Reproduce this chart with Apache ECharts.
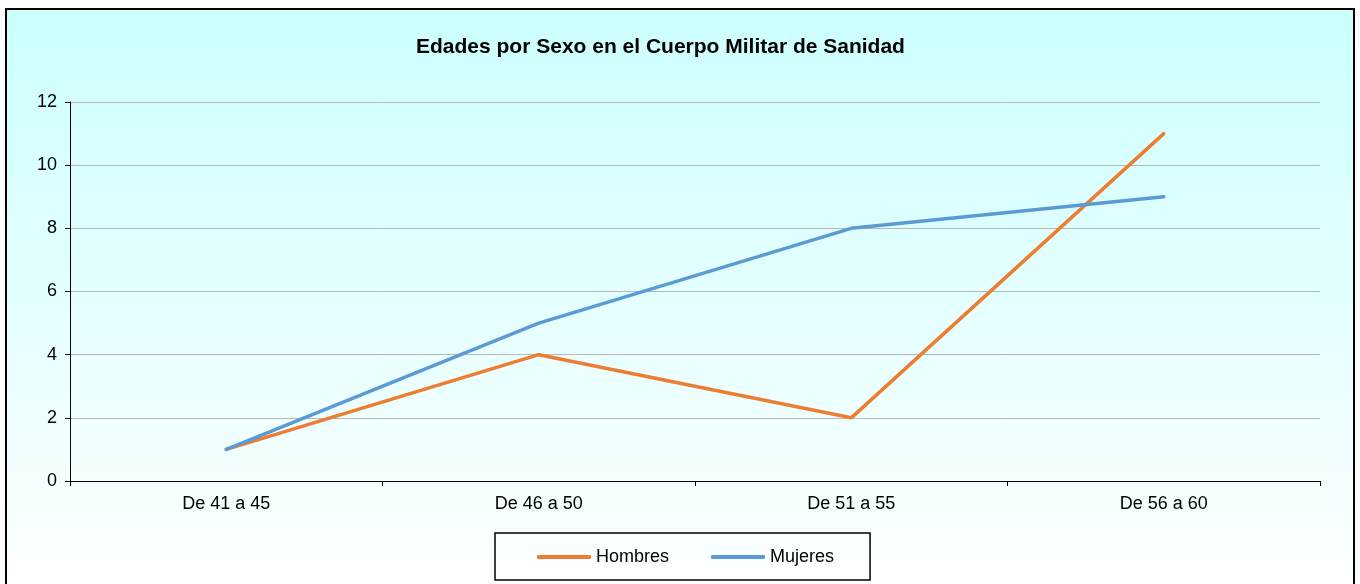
<!DOCTYPE html>
<html>
<head>
<meta charset="utf-8">
<style>
  html, body { margin: 0; padding: 0; background: #fff; }
  #chart { width: 1360px; height: 584px; }
</style>
<script src="https://cdn.jsdelivr.net/npm/echarts@6/dist/echarts.min.js"></script>
</head>
<body>
<div id="chart"></div>
<script>
var categories = ['De 41 a 45', 'De 46 a 50', 'De 51 a 55', 'De 56 a 60'];
var hombres = [1, 4, 2, 11];
var mujeres = [1, 5, 8, 9];
var font = '"Liberation Sans", Arial, sans-serif';

var chart = echarts.init(document.getElementById('chart'));
chart.setOption({
    textStyle: { fontFamily: font },
    animation: false,
    graphic: [
        {
            type: 'rect',
            z: -10,
            shape: { x: 6, y: 9, width: 1348, height: 600 },
            style: {
                fill: new echarts.graphic.LinearGradient(0, 0, 0, 1, [
                    { offset: 0, color: '#ccffff' },
                    { offset: 1, color: '#ffffff' }
                ]),
                stroke: '#000',
                lineWidth: 2
            }
        }
    ],
    title: {
        text: 'Edades por Sexo en el Cuerpo Militar de Sanidad',
        left: 416,
        top: 37,
        padding: 0,
        textStyle: { fontSize: 21, fontWeight: 'bold', color: '#000', fontFamily: font }
    },
    legend: {
        left: 495,
        top: 533,
        padding: [15, 36, 14, 42],
        borderColor: '#000',
        borderWidth: 1.5,
        icon: 'roundRect',
        itemWidth: 54,
        itemHeight: 4,
        itemGap: 42,
        textStyle: { fontSize: 18, color: '#000', fontFamily: font },
        data: ['Hombres', 'Mujeres']
    },
    grid: { left: 70, right: 40, top: 102, bottom: 103 },
    xAxis: {
        type: 'category',
        data: categories,
        boundaryGap: true,
        axisLine: { lineStyle: { color: '#000', width: 1 } },
        axisTick: { show: true, length: 5, lineStyle: { color: '#000' } },
        axisLabel: { fontSize: 18, color: '#000', margin: 14, fontFamily: font }
    },
    yAxis: {
        type: 'value',
        min: 0,
        max: 12,
        interval: 2,
        axisLine: { show: true, lineStyle: { color: '#000', width: 1 } },
        axisTick: { show: true, length: 5, lineStyle: { color: '#000' } },
        axisLabel: { fontSize: 18, color: '#000', margin: 13, fontFamily: font },
        splitLine: { lineStyle: { color: '#b8b8b8', width: 1 } }
    },
    series: [
        {
            name: 'Hombres',
            type: 'line',
            data: hombres,
            symbol: 'none',
            itemStyle: { color: '#ED7D31' },
            lineStyle: { color: '#ED7D31', width: 3.5, cap: 'round' }
        },
        {
            name: 'Mujeres',
            type: 'line',
            data: mujeres,
            symbol: 'none',
            itemStyle: { color: '#5B9BD5' },
            lineStyle: { color: '#5B9BD5', width: 3.5, cap: 'round' }
        }
    ]
});
</script>
</body>
</html>
